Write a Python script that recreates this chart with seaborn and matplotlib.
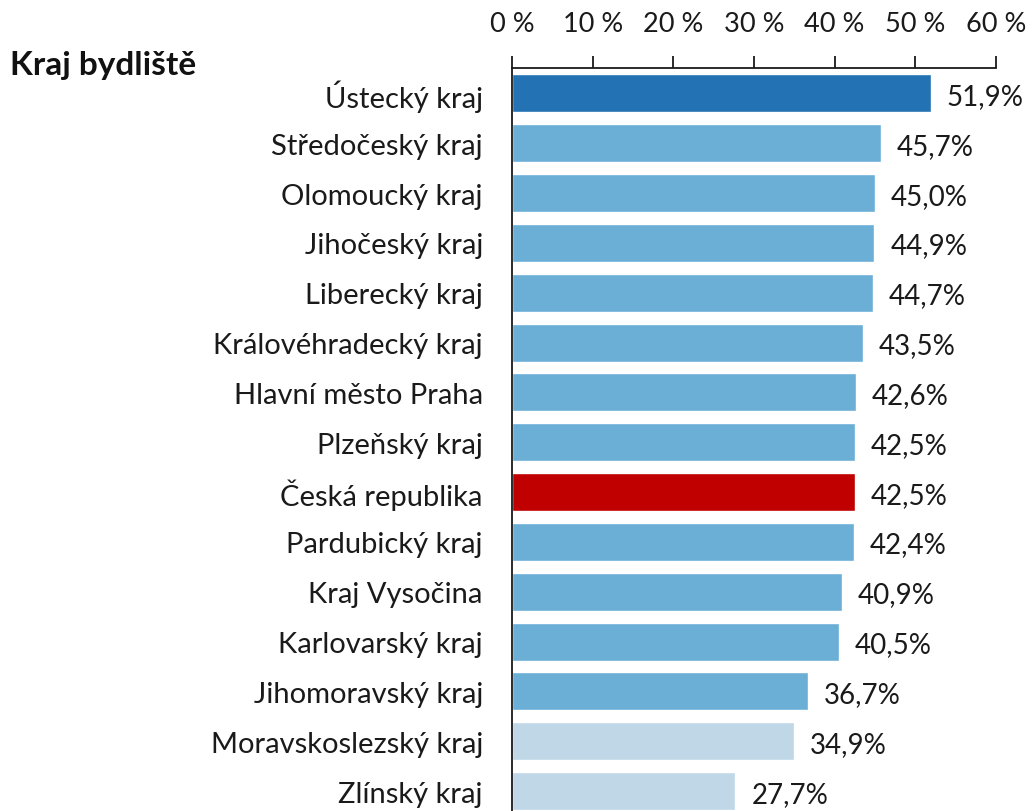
#importing the necessary libraries
import numpy as np
import pandas as pd
import matplotlib.pyplot as plt
import seaborn as sns

#data
kraje = ["Ústecký kraj", "Středočeský kraj", "Olomoucký kraj", "Jihočeský kraj",
         "Liberecký kraj", "Královéhradecký kraj", "Hlavní město Praha", "Plzeňský kraj",
         "Česká republika", "Pardubický kraj", "Kraj Vysočina", "Karlovarský kraj",
         "Jihomoravský kraj", "Moravskoslezský kraj", "Zlínský kraj"]
podil = [51.9, 45.7, 45.0, 44.9, 44.7, 43.5, 42.6, 42.5, 42.5, 42.4, 40.9, 40.5, 36.7, 34.9, 27.7]
x_ticks = [0, 10, 20, 30, 40, 50, 60]

df = pd.DataFrame({"kraj": kraje, "podil": podil})

#colours: top region, country total, lowest two, the rest
colors = []
for k, v in zip(kraje, podil):
    if k == "Česká republika":
        colors.append("#C00000")
    elif v == max(podil):
        colors.append("#2272B4")
    elif v < 36:
        colors.append("#BFD7E7")
    else:
        colors.append("#6BAED6")

sns.set_style("white")
plt.rcParams['font.family'] = ['Lato', 'DejaVu Sans']

fig = plt.figure(figsize=(10.33, 8.12), dpi=100)
ax = fig.add_axes([0.4956, 0.0, 0.4686, 0.915])

sns.barplot(data=df, x="podil", y="kraj", hue="kraj", palette=colors,
            legend=False, width=0.76, saturation=1, ax=ax)

#value labels
for i, v in enumerate(podil):
    ax.text(v + 2.0, i + 0.05, f"{v:.1f}%".replace(".", ","), va="center",
            ha="left", fontsize=20, color="#1a1a1a", clip_on=False)

ax.set_xlim(0, 60)
ax.set_ylim(14.4, -0.51)
ax.set_xticks(x_ticks)
ax.set_xticklabels([f"{t} %" for t in x_ticks])
ax.xaxis.tick_top()
ax.tick_params(axis="x", direction="out", length=9, width=1.3, color="#1a1a1a",
               labelsize=19.5, pad=14, labelcolor="#1a1a1a")
ax.tick_params(axis="y", length=0, labelsize=21, pad=21, labelcolor="#1a1a1a")
ax.set_xlabel("")
ax.set_ylabel("")

for s in ["right", "bottom"]:
    ax.spines[s].set_visible(False)
for s in ["top", "left"]:
    ax.spines[s].set_color("#1a1a1a")
    ax.spines[s].set_linewidth(1.3)

fig.text(0.01, 0.902, "Kraj bydliště", fontsize=24, fontweight="bold",
         ha="left", va="bottom", color="#111111")

plt.savefig("out.png", dpi=100)
